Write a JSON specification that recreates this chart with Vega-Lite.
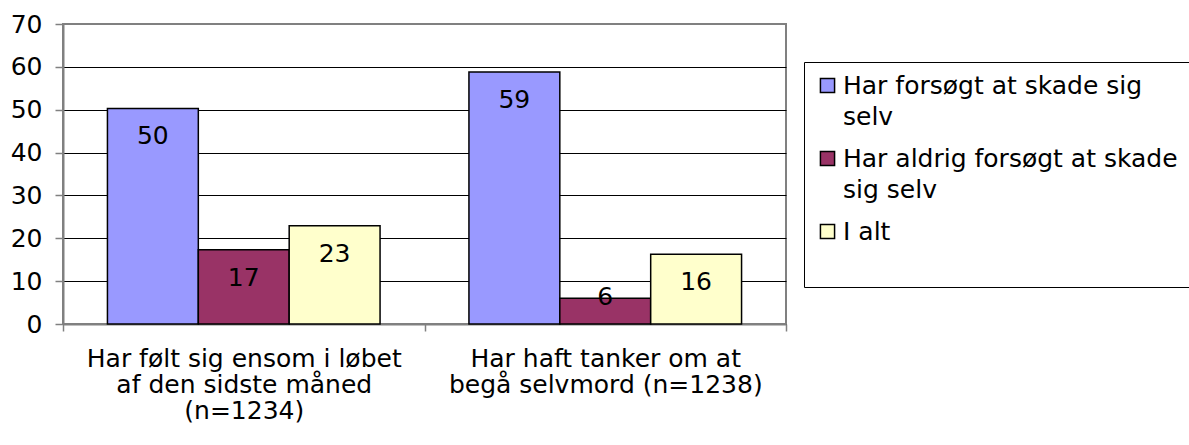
{
  "$schema": "https://vega.github.io/schema/vega-lite/v6.json",
  "width": 723,
  "height": 300,
  "autosize": {"type": "none"},
  "padding": {"left": 63, "top": 24, "right": 403, "bottom": 121},
  "config": {
    "font": "DejaVu Sans",
    "view": {"stroke": "#808080", "strokeWidth": 2},
    "background": "white",
    "style": {"guide-label": {"lineHeight": 31}}
  },
  "data": {
    "values": [
      {"cat": "Har følt sig ensom i løbet af den sidste måned (n=1234)", "grp": "Har forsøgt at skade sig selv", "v": 50.3},
      {"cat": "Har følt sig ensom i løbet af den sidste måned (n=1234)", "grp": "Har aldrig forsøgt at skade sig selv", "v": 17.3},
      {"cat": "Har følt sig ensom i løbet af den sidste måned (n=1234)", "grp": "I alt", "v": 22.9},
      {"cat": "Har haft tanker om at begå selvmord (n=1238)", "grp": "Har forsøgt at skade sig selv", "v": 58.8},
      {"cat": "Har haft tanker om at begå selvmord (n=1238)", "grp": "Har aldrig forsøgt at skade sig selv", "v": 6.0},
      {"cat": "Har haft tanker om at begå selvmord (n=1238)", "grp": "I alt", "v": 16.3}
    ]
  },
  "encoding": {
    "x": {
      "field": "cat", "type": "nominal", "sort": null,
      "scale": {"paddingInner": 0, "paddingOuter": 0},
      "axis": {
        "title": null, "labelAngle": 0, "tickBand": "extent",
        "domainColor": "#808080", "domainWidth": 2,
        "tickColor": "#808080", "tickSize": 7, "tickWidth": 1.5,
        "labelFontSize": 25, "labelColor": "black", "labelLineHeight": 26,
        "labelPadding": 15, "labelLimit": 0,
        "labelExpr": "datum.label == 'Har haft tanker om at begå selvmord (n=1238)' ? ['Har haft tanker om at', 'begå selvmord (n=1238)'] : datum.label == 'Har følt sig ensom i løbet af den sidste måned (n=1234)' ? ['Har følt sig ensom i løbet', 'af den sidste måned', '(n=1234)'] : ''"
      }
    },
    "xOffset": {
      "field": "grp", "type": "nominal",
      "sort": ["Har forsøgt at skade sig selv", "Har aldrig forsøgt at skade sig selv", "I alt"],
      "scale": {"paddingOuter": 0.489, "paddingInner": 0}
    },
    "y": {
      "field": "v", "type": "quantitative",
      "scale": {"domain": [0, 70], "nice": false},
      "axis": {
        "title": null, "values": [0, 10, 20, 30, 40, 50, 60, 70],
        "grid": true,
        "gridColor": {"condition": {"test": "datum.value == 70", "value": "#808080"}, "value": "black"},
        "gridWidth": 1,
        "domainColor": "#808080", "domainWidth": 2,
        "tickColor": "#808080", "tickSize": 8, "tickWidth": 1.5,
        "labelFontSize": 25, "labelColor": "black", "labelPadding": 13
      }
    }
  },
  "layer": [
    {
      "mark": {"type": "bar", "stroke": "black", "strokeWidth": 1.5},
      "encoding": {
        "color": {
          "field": "grp", "type": "nominal",
          "sort": ["Har forsøgt at skade sig selv", "Har aldrig forsøgt at skade sig selv", "I alt"],
          "scale": {
            "domain": ["Har forsøgt at skade sig selv", "Har aldrig forsøgt at skade sig selv", "I alt"],
            "range": ["#9999FF", "#993366", "#FFFFCC"]
          },
          "legend": {
            "title": null, "orient": "none", "legendX": 741, "legendY": 38,
            "strokeColor": "black", "fillColor": "white",
            "padding": 11, "symbolType": "square", "symbolSize": 200,
            "symbolStrokeColor": "black", "symbolStrokeWidth": 1.5,
            "labelFontSize": 25, "labelColor": "black", "labelLimit": 0,
            "labelOffset": 3, "rowPadding": 16,
            "labelExpr": "datum.label == 'Har forsøgt at skade sig selv' ? ['Har forsøgt at skade sig', 'selv'] : datum.label == 'Har aldrig forsøgt at skade sig selv' ? ['Har aldrig forsøgt at skade', 'sig selv'] : ['I alt', ' ']"
          }
        }
      }
    },
    {
      "transform": [{"filter": "datum.v >= 10"}],
      "mark": {"type": "text", "baseline": "middle", "dy": 28, "fontSize": 25, "color": "black"},
      "encoding": {"text": {"field": "v", "type": "quantitative", "format": ".0f"}}
    },
    {
      "transform": [{"filter": "datum.v < 10"}],
      "mark": {"type": "text", "baseline": "middle", "dy": -1, "fontSize": 25, "color": "black"},
      "encoding": {"text": {"field": "v", "type": "quantitative", "format": ".0f"}}
    }
  ]
}
